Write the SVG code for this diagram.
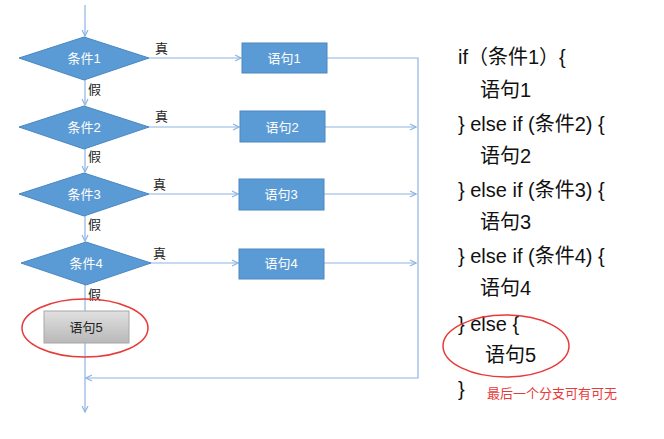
<svg xmlns="http://www.w3.org/2000/svg" width="664" height="439" viewBox="0 0 664 439">
<style>
.d{fill:#5b9bd5;stroke:#4a87c0;stroke-width:1}
.b{fill:#5b9bd5;stroke:#4a87c0;stroke-width:1}
.w{fill:#fff;font:13px "Liberation Sans","Noto Sans CJK SC",sans-serif;text-anchor:middle}
.l{fill:#222;font:13px "Noto Sans CJK SC",sans-serif}
.c{fill:#111;font:20px "Liberation Sans","Noto Sans CJK SC",sans-serif}
.ln{stroke:#8db4e2;stroke-width:1.2;fill:none}
.r{fill:none;stroke:#e83a3a;stroke-width:1.5}
</style>
<defs><marker id="a" markerWidth="8" markerHeight="8" refX="7" refY="4" orient="auto" markerUnits="userSpaceOnUse"><path d="M1,1 L7,4 L1,7" fill="none" stroke="#8db4e2" stroke-width="1.2"/></marker></defs>
<g id="connectors">
<path class="ln" d="M85,5 V36" marker-end="url(#a)"/>
<path class="ln" d="M85,80 V105" marker-end="url(#a)"/>
<path class="ln" d="M85,149 V172" marker-end="url(#a)"/>
<path class="ln" d="M85,216 V241" marker-end="url(#a)"/>
<path class="ln" d="M85,285 V311"/>
<path class="ln" d="M85,343 V412" marker-end="url(#a)"/>
<path class="ln" d="M149,58 H241" marker-end="url(#a)"/>
<path class="ln" d="M149,127 H239" marker-end="url(#a)"/>
<path class="ln" d="M149,194 H238" marker-end="url(#a)"/>
<path class="ln" d="M149,263 H238" marker-end="url(#a)"/>
<path class="ln" d="M327,58 H418 V378 H86" marker-end="url(#a)"/>
<path class="ln" d="M325,127 H416" marker-end="url(#a)"/>
<path class="ln" d="M324,194 H416" marker-end="url(#a)"/>
<path class="ln" d="M324,263 H416" marker-end="url(#a)"/>
<text class="l" x="155" y="53">真</text><text class="l" x="155" y="121">真</text>
<text class="l" x="153" y="189">真</text><text class="l" x="153" y="258">真</text>
<text class="l" x="88" y="94">假</text><text class="l" x="88" y="161">假</text>
<text class="l" x="88" y="229">假</text><text class="l" x="88" y="299">假</text>
</g>
<g id="c1"><polygon class="d" points="19,58 84,37 149,58 84,80"/><text class="w" x="84" y="63">条件1</text></g>
<g id="c2"><polygon class="d" points="19,127 84,106 149,127 84,149"/><text class="w" x="84" y="132">条件2</text></g>
<g id="c3"><polygon class="d" points="19,194 84,173 149,194 84,216"/><text class="w" x="84" y="199">条件3</text></g>
<g id="c4"><polygon class="d" points="21,263 86,242 151,263 86,285"/><text class="w" x="86" y="268">条件4</text></g>
<g id="s1"><rect class="b" x="242" y="43" width="85" height="30"/><text class="w" x="284" y="63">语句1</text></g>
<g id="s2"><rect class="b" x="240" y="111" width="85" height="31"/><text class="w" x="282" y="132">语句2</text></g>
<g id="s3"><rect class="b" x="239" y="179" width="85" height="31"/><text class="w" x="281" y="199">语句3</text></g>
<g id="s4"><rect class="b" x="239" y="249" width="85" height="30"/><text class="w" x="281" y="268">语句4</text></g>
<defs><linearGradient id="g" x1="0" y1="0" x2="0" y2="1"><stop offset="0" stop-color="#e0e0e0"/><stop offset="1" stop-color="#b8b8b8"/></linearGradient></defs>
<g id="s5"><rect x="44" y="311" width="85" height="32" fill="url(#g)" stroke="#a8a8a8"/><text class="w" x="86" y="332" style="fill:#222">语句5</text></g>
<ellipse class="r" cx="85" cy="328" rx="63" ry="29"/>
<g id="code">
<text class="c" x="458" y="64">if（条件1）{</text>
<text class="c" x="480" y="97">语句1</text>
<text class="c" x="458" y="131">} else if (条件2) {</text>
<text class="c" x="480" y="163">语句2</text>
<text class="c" x="458" y="197">} else if (条件3) {</text>
<text class="c" x="480" y="229">语句3</text>
<text class="c" x="458" y="263">} else if (条件4) {</text>
<text class="c" x="480" y="295">语句4</text>
<text class="c" x="458" y="331">} else {</text>
<text class="c" x="485" y="362">语句5</text>
<text class="c" x="458" y="396">}</text>
<text x="487" y="398" style="fill:#e83a3a;font:13px 'Noto Sans CJK SC',sans-serif">最后一个分支可有可无</text>
</g>
<ellipse class="r" cx="506" cy="346" rx="63" ry="31"/>
</svg>
